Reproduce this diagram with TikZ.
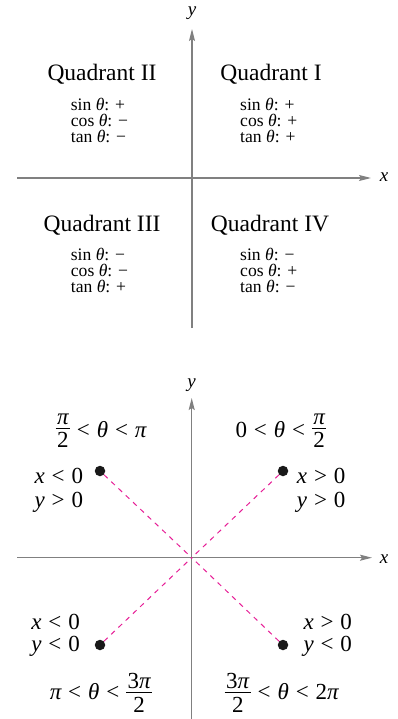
\documentclass[tikz,border=0pt]{standalone}
\usepackage{fontspec}
\setmainfont{Liberation Serif}
\usetikzlibrary{arrows.meta}
\definecolor{axisgray}{RGB}{128,128,128}
\definecolor{magentadash}{RGB}{230,30,150}
\newcommand{\mvar}[1]{\mbox{\itshape #1}}
\newcommand{\mnum}[1]{\mbox{#1}}
\newcommand{\rlt}{\mathrel{\mbox{<}}}
\newcommand{\rgt}{\mathrel{\mbox{>}}}
\newcommand{\mfr}[2]{\mathord{\vcenter{\hbox{\offinterlineskip\vbox{\halign{\kern1.5pt\hfil##\hfil\kern1.5pt\cr
  \mbox{#1}\cr\noalign{\kern3.5pt\hrule height 1pt\kern3.5pt}\mbox{#2}\cr}}}}}}
\tikzset{
  axis/.style={draw=axisgray,line width=1.3pt,-{Stealth[length=12pt,width=6pt,inset=2pt]}},
  axlab/.style={inner sep=0pt,anchor=base,font=\fontsize{19}{20}\selectfont\itshape},
  quad/.style={inner sep=0pt,anchor=base,font=\fontsize{23.5}{24}\selectfont},
  sgn/.style={inner sep=0pt,anchor=base west,font=\fontsize{17.6}{16}\selectfont},
  mlab/.style={inner sep=0pt,anchor=base,font=\fontsize{23}{24}\selectfont},
  mlabr/.style={inner sep=0pt,anchor=base east,font=\fontsize{23}{24}\selectfont},
  mlabl/.style={inner sep=0pt,anchor=base west,font=\fontsize{23}{24}\selectfont},
  pt/.style={circle,fill=black!90,inner sep=0pt,minimum size=10.5pt},
  pink/.style={draw=magentadash,line width=1pt,dash pattern=on 5pt off 5pt},
}
\begin{document}
\begin{tikzpicture}[x=1pt,y=-1pt]
\useasboundingbox (0,0) rectangle (397,719);
% ---------- top diagram ----------
\coordinate (tx0) at (17,178);
\coordinate (tx1) at (371,178);
\coordinate (ty0) at (192,328);
\coordinate (ty1) at (192,29);
\draw[axis] (tx0) -- (tx1);
\draw[axis] (ty0) -- (ty1);
\node[axlab] (txl) at (384,182) {x};
\node[axlab] (tyl) at (192,16) {y};

\node[quad] (q2) at (102,81) {Quadrant II};
\node[quad] (q1) at (271,81) {Quadrant I};
\node[quad] (q3) at (102,231.7) {Quadrant III};
\node[quad] (q4) at (270,231.7) {Quadrant IV};

\node[sgn] (s2) at (70.7,110.7) {sin \textit{θ}: +};
\node[sgn] (c2) at (70.7,126.7) {cos \textit{θ}: −};
\node[sgn] (t2) at (70.7,142.7) {tan \textit{θ}: −};
\node[sgn] (s1) at (240,110.7) {sin \textit{θ}: +};
\node[sgn] (c1) at (240,126.7) {cos \textit{θ}: +};
\node[sgn] (t1) at (240,142.7) {tan \textit{θ}: +};
\node[sgn] (s3) at (70.7,260) {sin \textit{θ}: −};
\node[sgn] (c3) at (70.7,276) {cos \textit{θ}: −};
\node[sgn] (t3) at (70.7,292) {tan \textit{θ}: +};
\node[sgn] (s4) at (240,260) {sin \textit{θ}: −};
\node[sgn] (c4) at (240,276) {cos \textit{θ}: +};
\node[sgn] (t4) at (240,292) {tan \textit{θ}: −};

% ---------- bottom diagram ----------
\coordinate (o) at (191.7,557.7);
\coordinate (bx0) at (17,557.7);
\coordinate (bx1) at (372,557.7);
\coordinate (by0) at (191.7,719);
\coordinate (by1) at (191.7,398);
\draw[axis] (bx0) -- (bx1);
\draw[axis] (by0) -- (by1);
\node[axlab] (bxl) at (384,563) {x};
\node[axlab] (byl) at (191.7,387) {y};

\node[pt] (d2) at (100,471) {};
\node[pt] (d1) at (283,471) {};
\node[pt] (d3) at (100,645) {};
\node[pt] (d4) at (283,645) {};
\draw[pink] (d2) -- (o);
\draw[pink] (d1) -- (o);
\draw[pink] (d3) -- (o);
\draw[pink] (d4) -- (o);

\node[mlab] (r2) at (101,437) {$\mfr{\itshape π}{2}\rlt\mvar{θ}\rlt\mvar{π}$};
\node[mlab] (r1) at (281,437) {$\mnum{0}\rlt\mvar{θ}\rlt\mfr{\itshape π}{2}$};
\node[mlab] (r3) at (101,699) {$\mvar{π}\rlt\mvar{θ}\rlt\mfr{3\itshape π}{2}$};
\node[mlab] (r4) at (281.7,699) {$\mfr{3\itshape π}{2}\rlt\mvar{θ}\rlt\mnum{2\itshape π}$};

\node[mlabr] (x2) at (83.3,483) {$\mvar{x}\rlt\mnum{0}$};
\node[mlabr] (y2) at (83.3,507) {$\mvar{y}\rgt\mnum{0}$};
\node[mlabl] (x1) at (296.7,483) {$\mvar{x}\rgt\mnum{0}$};
\node[mlabl] (y1) at (296.7,507) {$\mvar{y}\rgt\mnum{0}$};
\node[mlabr] (x3) at (80,629) {$\mvar{x}\rlt\mnum{0}$};
\node[mlabr] (y3) at (80,651) {$\mvar{y}\rlt\mnum{0}$};
\node[mlabl] (x4) at (303.3,629) {$\mvar{x}\rgt\mnum{0}$};
\node[mlabl] (y4) at (303.3,651) {$\mvar{y}\rlt\mnum{0}$};
\end{tikzpicture}
\end{document}
